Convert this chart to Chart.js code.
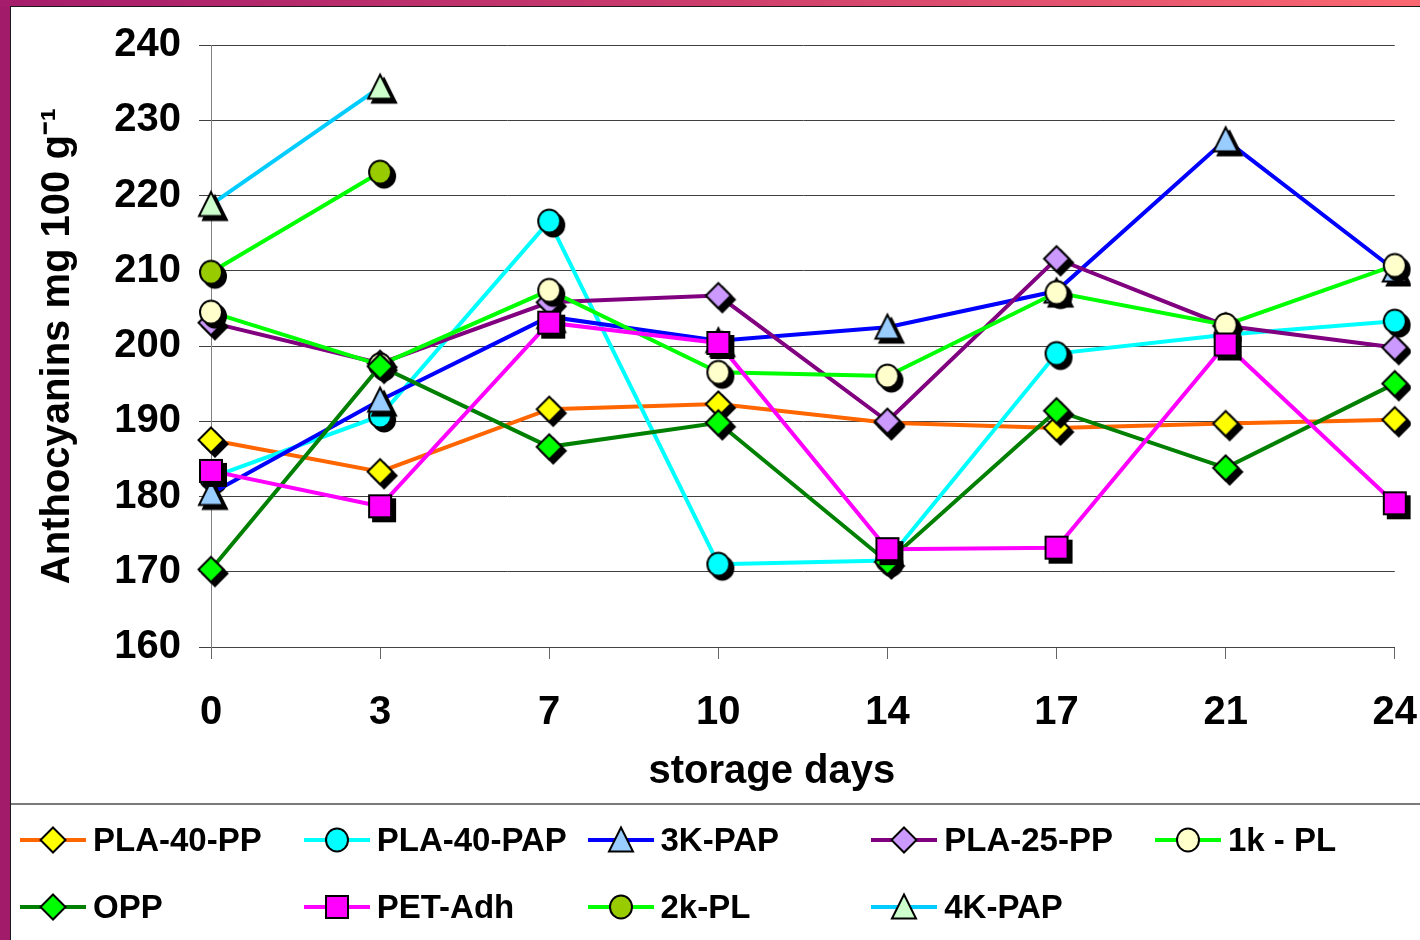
<!DOCTYPE html>
<html>
<head>
<meta charset="utf-8">
<script src="https://cdn.jsdelivr.net/npm/chart.js@4.4.1/dist/chart.umd.min.js"></script>
<style>
  html, body { margin: 0; padding: 0; width: 1420px; height: 940px; overflow: hidden; background: #a21a6a; }
  #topbar { position: absolute; left: 0; top: 0; width: 1420px; height: 7px;
            background: linear-gradient(to right, #a51c6b, #c83a6c 45%, #fb6871); }
  #panel { position: absolute; left: 10px; top: 6px; width: 1409px; height: 933px; background: #fff;
           border-top: 1px solid #1a1a1a; border-left: 1px solid #1a1a1a; }
  #frame { position: absolute; left: 11px; top: 7px; width: 1409px; height: 933px; overflow: hidden; }
  #plot { position: absolute; left: 1px; top: -4px; }
  #sep { position: absolute; left: 11px; top: 803px; width: 1409px; height: 2px; background: #7a7a7a; }
  #legend { position: absolute; left: 12px; top: 806px; width: 1408px; height: 134px; }
  .item { position: absolute; display: flex; align-items: center; height: 40px; white-space: nowrap;
          font-family: "Liberation Sans", Arial, sans-serif; font-weight: bold; font-size: 33px; color: #000; }
  .item canvas { margin-right: 7px; display: block; }
</style>
</head>
<body>
<div id="topbar"></div>
<div id="panel"></div>
<div id="frame"><canvas id="plot" width="1435" height="801"></canvas></div>
<div id="sep"></div>
<div id="legend"></div>
<script>
// Storage days (category axis, evenly spaced)
const days = ['0', '3', '7', '10', '14', '17', '21', '24'];

// Anthocyanin content, mg per 100 g, per packaging film
const pla40pp  = [187.5, 183.3, 191.6, 192.3, 189.8, 189.1, 189.7, 190.2];
const pla40pap = [182.5, 190.7, 216.6, 171.0, 171.5, 199.0, 201.5, 203.3];
const k3pap    = [180.4, 192.8, 203.9, 200.7, 202.5, 207.3, 227.4, 210.1];
const pla25pp  = [203.1, 197.7, 205.8, 206.7, 190.0, 211.6, 202.7, 199.8];
const k1pl     = [204.5, 197.5, 207.4, 196.5, 196.0, 207.1, 202.8, 210.7];
const opp      = [170.3, 197.3, 186.6, 189.8, 171.3, 191.4, 183.8, 195.0];
const petAdh   = [183.4, 178.7, 203.1, 200.4, 173.0, 173.2, 200.2, 179.1];
const k2pl     = [209.8, 223.1, null, null, null, null, null, null];
const k4pap    = [218.8, 234.4, null, null, null, null, null, null];

// Value axis range
const yMin = 160, yMax = 240, yStep = 10;

const FONT = '"Liberation Sans", Arial, sans-serif';
const X_TITLE = 'storage days';

const series = [
  { name: 'PLA-40-PP',  data: pla40pp,  line: '#ff6600', shape: 'diamond',  fill: '#ffff00' },
  { name: 'PLA-40-PAP', data: pla40pap, line: '#00ffff', shape: 'circle',   fill: '#00ffff' },
  { name: '3K-PAP',     data: k3pap,    line: '#0000ff', shape: 'triangle', fill: '#99ccff' },
  { name: 'PLA-25-PP',  data: pla25pp,  line: '#800080', shape: 'diamond',  fill: '#cc99ff' },
  { name: '1k - PL',    data: k1pl,     line: '#00ff00', shape: 'circle',   fill: '#ffffcc' },
  { name: 'OPP',        data: opp,      line: '#008000', shape: 'diamond',  fill: '#00ff00' },
  { name: 'PET-Adh',    data: petAdh,   line: '#ff00ff', shape: 'square',   fill: '#ff00ff' },
  { name: '2k-PL',      data: k2pl,     line: '#00ff00', shape: 'circle',   fill: '#99cc00' },
  { name: '4K-PAP',     data: k4pap,    line: '#00ccff', shape: 'triangle', fill: '#ccffcc' }
];

function shapePath(ctx, shape, cx, cy) {
  ctx.beginPath();
  if (shape === 'diamond') {
    const r = 12.5;
    ctx.moveTo(cx, cy - r); ctx.lineTo(cx + r, cy); ctx.lineTo(cx, cy + r); ctx.lineTo(cx - r, cy);
    ctx.closePath();
  } else if (shape === 'square') {
    const h = 11;
    ctx.rect(cx - h, cy - h, 2 * h, 2 * h);
  } else if (shape === 'circle') {
    ctx.ellipse(cx, cy, 11, 11.5, 0, 0, Math.PI * 2);
  } else {
    ctx.moveTo(cx, cy - 12.5); ctx.lineTo(cx + 12, cy + 11.5); ctx.lineTo(cx - 12, cy + 11.5);
    ctx.closePath();
  }
}

// Marker sprite with a solid drop shadow, centred on the canvas
function makeMarker(shape, fill) {
  const S = 46, c = S / 2;
  const cv = document.createElement('canvas');
  cv.width = S; cv.height = S;
  const ctx = cv.getContext('2d');
  ctx.lineJoin = 'miter';
  shapePath(ctx, shape, c + 4, c + 4);
  ctx.fillStyle = '#000'; ctx.fill();
  ctx.lineWidth = 2; ctx.strokeStyle = '#000'; ctx.stroke();
  shapePath(ctx, shape, c, c);
  ctx.fillStyle = fill; ctx.fill();
  ctx.lineWidth = 2; ctx.strokeStyle = '#000'; ctx.stroke();
  return cv;
}

const n = series.length;
const datasets = series.map((s, i) => ({
  label: s.name,
  data: s.data,
  borderColor: s.line,
  backgroundColor: s.fill,
  borderWidth: 4,
  tension: 0,
  spanGaps: false,
  pointStyle: makeMarker(s.shape, s.fill),
  pointRadius: 12,
  pointHoverRadius: 12,
  order: n - i          // later series are painted on top
}));

const tickFont = { family: FONT, size: 40, weight: 'bold' };

// Category-axis caption, set slightly left of the plot centre
const xAxisCaption = {
  id: 'xAxisCaption',
  afterDraw(chart) {
    const { ctx, chartArea } = chart;
    ctx.save();
    ctx.font = 'bold 40px ' + FONT;
    ctx.fillStyle = '#000';
    ctx.textAlign = 'center';
    ctx.textBaseline = 'middle';
    ctx.fillText(X_TITLE, (chartArea.left + chartArea.right) / 2 - 31, chartArea.bottom + 125);
    ctx.restore();
  }
};

new Chart(document.getElementById('plot').getContext('2d'), {
  type: 'line',
  data: { labels: days, datasets },
  plugins: [xAxisCaption],
  options: {
    responsive: false,
    animation: false,
    devicePixelRatio: 1,
    layout: { padding: { left: 0, right: 2, top: 20, bottom: 0 } },
    plugins: { legend: { display: false }, tooltip: { enabled: false } },
    scales: {
      x: {
        offset: false,
        grid: { drawOnChartArea: false, drawTicks: true, tickLength: 12, color: '#666', lineWidth: 1 },
        border: { color: '#444', width: 1 },
        ticks: { color: '#000', font: tickFont, padding: 30, maxRotation: 0, autoSkip: false },
        title: { display: false },
        afterFit(scale) { scale.height = 157; }
      },
      y: {
        min: yMin, max: yMax,
        grid: { color: '#404040', lineWidth: 1, tickLength: 12 },
        border: { color: '#808080', width: 1 },
        ticks: { stepSize: yStep, color: '#000', font: tickFont, padding: 18 },
        title: { display: true, text: 'Anthocyanins mg 100 g\u207B\u00B9', color: '#000', font: tickFont, padding: { top: 22, bottom: 0 } },
        afterFit(scale) { scale.width = 199; }
      }
    }
  }
});

// Legend: line swatch with the series marker, laid out in five columns
const legend = document.getElementById('legend');
const colW = 283.75, colX0 = 8, rowTops = [14, 81];
series.forEach((s, i) => {
  const item = document.createElement('div');
  item.className = 'item';
  item.style.left = (colX0 + (i % 5) * colW) + 'px';
  item.style.top = rowTops[Math.floor(i / 5)] + 'px';
  const sw = document.createElement('canvas');
  sw.width = 66; sw.height = 30;
  const c = sw.getContext('2d');
  c.strokeStyle = s.line; c.lineWidth = 4;
  c.beginPath(); c.moveTo(0, 15); c.lineTo(66, 15); c.stroke();
  shapePath(c, s.shape, 33, 15);
  c.fillStyle = s.fill; c.fill();
  c.lineWidth = 2; c.strokeStyle = '#000'; c.stroke();
  item.appendChild(sw);
  const t = document.createElement('span');
  t.textContent = s.name;
  item.appendChild(t);
  legend.appendChild(item);
});
</script>
</body>
</html>
